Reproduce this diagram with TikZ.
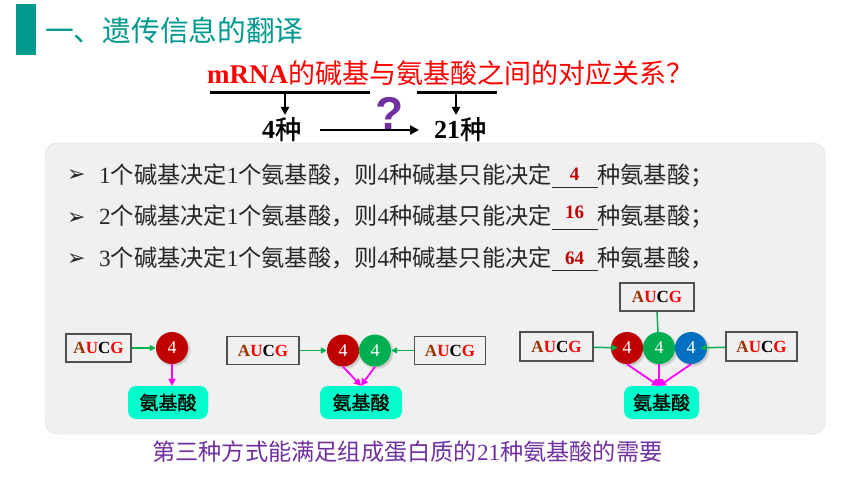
\documentclass[tikz,border=0pt]{standalone}
\usepackage{fontspec}
\setmainfont{Liberation Serif}
\newfontfamily\cjk{Noto Sans CJK SC}
\newfontfamily\cjkb[FakeBold=1.2]{Noto Sans CJK SC}
\newfontfamily\dvs{DejaVu Sans}
\newfontfamily\lsans{Liberation Sans}
\usetikzlibrary{arrows.meta,shadows}
\definecolor{teal}{HTML}{00998F}
\definecolor{panelgray}{HTML}{F0F0F0}
\definecolor{panelborder}{HTML}{DADADA}
\definecolor{titlered}{HTML}{FF0000}
\definecolor{numred}{HTML}{C00000}
\definecolor{qpurple}{HTML}{7030A0}
\definecolor{cred}{HTML}{C00000}
\definecolor{cgreen}{HTML}{00B050}
\definecolor{cblue}{HTML}{0070C0}
\definecolor{agreen}{HTML}{00B050}
\definecolor{mag}{HTML}{FF00FF}
\definecolor{aqua}{HTML}{00FFCC}
\definecolor{abrown}{HTML}{993300}
\definecolor{ured}{HTML}{FF0000}
\definecolor{boxgray}{HTML}{505050}
\definecolor{textdark}{HTML}{262626}
\newcommand{\zh}[1]{{\cjk #1}}
\newcommand{\AUCGtext}{\textbf{\textcolor{abrown}{A}\textcolor{ured}{U}\textcolor{black}{C}\textcolor{ured}{G}}}
\newcommand{\blankfill}[2]{\rlap{\color{textdark}\rule[-4.5pt]{46pt}{0.9pt}}\makebox[46pt]{\raisebox{#2}{\fontsize{19}{19}\selectfont\bfseries\textcolor{numred}{#1}}}}
\tikzset{
  rowtext/.style={anchor=base west, inner sep=0pt, text=textdark, font=\fontsize{23.2}{23.2}\selectfont},
  bulletmark/.style={anchor=base west, inner sep=0pt, text=textdark, font=\dvs\fontsize{22}{22}\selectfont},
  aucg/.style={draw=boxgray, line width=1.2pt, inner sep=0pt, minimum height=28pt, font=\fontsize{17}{17}\selectfont},
  basecirc/.style={circle, minimum size=32pt, inner sep=0pt, text=white, font=\fontsize{18}{18}\selectfont,
    circular drop shadow={shadow xshift=1.2pt, shadow yshift=-1.2pt, opacity=0.35}},
  amino/.style={rounded corners=8pt, fill=aqua, minimum height=33pt, inner sep=0pt, font=\cjkb\fontsize{19}{19}\selectfont, text=black},
  garrow/.style={draw=agreen, line width=1.5pt, -{Triangle[length=6pt,width=6pt]}},
  gline/.style={draw=agreen, line width=1.5pt},
  marrow/.style={draw=mag, line width=1.8pt, -{Triangle[length=7pt,width=7pt]}},
  darrow/.style={draw=black, line width=2pt, -{Triangle[length=8pt,width=8pt]}},
  harrow/.style={draw=black, line width=2.5pt, -{Triangle[length=9pt,width=9pt]}},
  bar/.style={draw=black, line width=3pt}
}
\begin{document}
\begin{tikzpicture}[x=1pt,y=-1pt]
\useasboundingbox (0,0) rectangle (860,484);
\fill[white] (0,0) rectangle (860,484);
% title
\node[fill=teal, minimum width=20pt, minimum height=51pt, inner sep=0pt] (tbar) at (26,29.5) {};
\node[anchor=west, inner sep=0pt, text=teal, font=\cjk\fontsize{28.7}{28.7}\selectfont] (title) at (45,30) {一、遗传信息的翻译};
% question line
\node[anchor=base west, inner sep=0pt, text=titlered, font=\fontsize{27}{27}\selectfont] (q) at (207,84) {\textbf{mRNA}\zh{的碱基与氨基酸之间的对应关系？}};
\coordinate (l1a) at (210,93); \coordinate (l1b) at (370,93); \coordinate (l1m) at (285,93); \coordinate (l1t) at (285,115);
\coordinate (l2a) at (417,93); \coordinate (l2b) at (497,93); \coordinate (l2m) at (456,93); \coordinate (l2t) at (456,115);
\draw[bar] (l1a) -- (l1b);
\draw[bar] (l2a) -- (l2b);
\draw[darrow] (l1m) -- (l1t);
\draw[darrow] (l2m) -- (l2t);
\node[anchor=base west, inner sep=0pt, font=\fontsize{26}{26}\selectfont] (four) at (262,139) {\textbf{4}{\cjkb 种}};
\node[anchor=base west, inner sep=0pt, font=\fontsize{26}{26}\selectfont] (tw) at (434,139) {\textbf{21}{\cjkb 种}};
\draw[harrow, shorten <=19pt, shorten >=15pt] ([yshift=9pt]four.base east) -- ([yshift=9pt]tw.base west);
\node[anchor=base, inner sep=0pt, text=qpurple, font=\lsans\bfseries\fontsize{46}{46}\selectfont] (qm) at (389.5,130) {?};
% panel
\node[draw=panelborder, fill=panelgray, rounded corners=12pt, minimum width=780pt, minimum height=291pt, inner sep=0pt] (panel) at (435,288.5) {};
% rows
\node[bulletmark] (b1) at (67,182) {➢};
\node[bulletmark] (b2) at (67,224) {➢};
\node[bulletmark] (b3) at (67,265) {➢};
\node[rowtext] (r1) at (99,183) {1\zh{个碱基决定}1\zh{个氨基酸，则}4\zh{种碱基只能决定}\blankfill{4}{2.5pt}\zh{种氨基酸；}};
\node[rowtext] (r2) at (99,225) {2\zh{个碱基决定}1\zh{个氨基酸，则}4\zh{种碱基只能决定}\blankfill{16}{6.5pt}\zh{种氨基酸；}};
\node[rowtext] (r3) at (99,266) {3\zh{个碱基决定}1\zh{个氨基酸，则}4\zh{种碱基只能决定}\blankfill{64}{1.5pt}\zh{种氨基酸，}};
% diagram 1
\node[aucg, minimum width=65pt] (u1) at (98.5,348) {\AUCGtext};
\node[basecirc, fill=cred] (c1) at (172,348) {4};
\node[amino, minimum width=80pt] (a1) at (168,402.5) {氨基酸};
\draw[garrow] (u1) -- (c1);
\draw[marrow] (c1.south) -- (c1.south |- a1.north);
% diagram 2
\node[aucg, minimum width=72pt] (u2l) at (263,350.5) {\AUCGtext};
\node[aucg, minimum width=71pt] (u2r) at (450,350.5) {\AUCGtext};
\node[basecirc, fill=cred] (c2a) at (343,350.5) {4};
\node[basecirc, fill=cgreen] (c2b) at (375,350.5) {4};
\node[amino, minimum width=82pt] (a2) at (361,402.5) {氨基酸};
\draw[garrow] (u2l) -- (c2a);
\draw[garrow] (u2r) -- (c2b);
\draw[marrow] (c2a.south) -- (a2.north);
\draw[marrow] (c2b.south) -- (a2.north);
% diagram 3
\node[aucg, minimum width=74pt] (u3t) at (657,297) {\AUCGtext};
\node[aucg, minimum width=73pt, minimum height=29pt] (u3l) at (556.5,346.5) {\AUCGtext};
\node[aucg, minimum width=71pt, minimum height=29pt] (u3r) at (761.5,346.5) {\AUCGtext};
\node[amino, minimum width=75pt] (a3) at (661.5,402.5) {氨基酸};
\draw[gline] (u3t.south) -- (658,332);
\node[basecirc, fill=cred] (c3a) at (627,348) {4};
\node[basecirc, fill=cgreen] (c3b) at (659,348) {4};
\node[basecirc, fill=cblue] (c3c) at (691,348) {4};
\draw[garrow, shorten >=-7pt] (u3l) -- (c3a);
\draw[garrow, shorten >=-7pt] (u3r) -- (c3c);
\coordinate (m3) at (659,386);
\draw[marrow] (c3a.south) -- (m3);
\draw[marrow] (c3b.south) -- (m3);
\draw[marrow] (c3c.south) -- (m3);
% conclusion
\node[anchor=base west, inner sep=0pt, text=qpurple, font=\cjk\fontsize{23.2}{23.2}\selectfont] (concl) at (152,460.5) {第三种方式能满足组成蛋白质的{\rmfamily 21}种氨基酸的需要};
\end{tikzpicture}
\end{document}
